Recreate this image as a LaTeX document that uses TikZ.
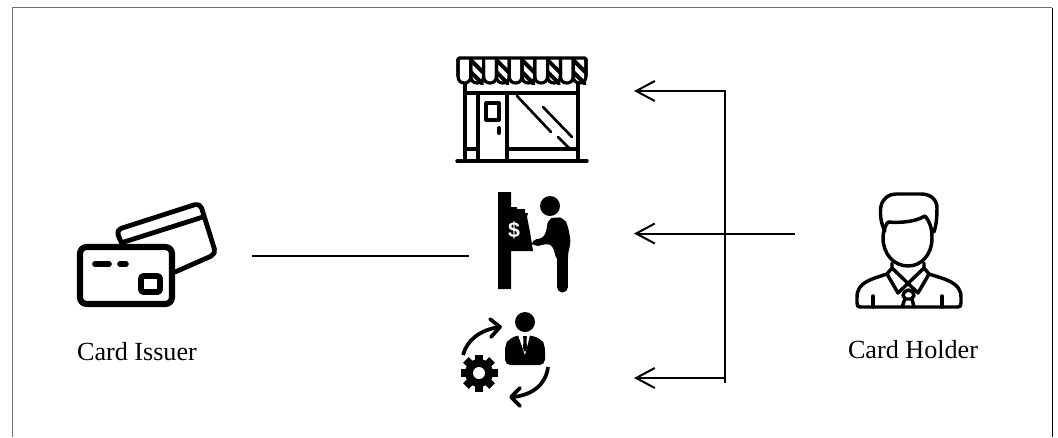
\documentclass[tikz,border=0pt]{standalone}
\usepackage{fontspec}
\setmainfont{Liberation Serif}
\setsansfont{Liberation Sans}
\usetikzlibrary{arrows.meta}
\tikzset{
  px/.style={x=0.75pt,y=-0.75pt},
  ico/.style={line width=3pt,line cap=round,line join=round,black},
  thin ico/.style={line width=2.4pt,line cap=round,line join=round,black},
  conn/.style={line width=1.5pt,black},
  arr/.style={conn,-{Straight Barb[length=14pt,width=15pt,line width=1.5pt]}},
  lab/.style={font=\fontsize{19.6pt}{22pt}\selectfont,inner sep=0pt,black,anchor=base}
}
\begin{document}
\begin{tikzpicture}[px]
\useasboundingbox (0,0) rectangle (1058,437);
\fill[white] (0,0) rectangle (1058,437);
% frame
\draw[black!55,line width=1pt] (12.5,437) -- (12.5,7.5) -- (1052,7.5);
\draw[black,line width=0.75pt] (1052,7.5) -- (1052,437);
% labels
\node[lab] (issuer) at (137,360) {Card Issuer};
\node[lab] (holder) at (913,358) {Card Holder};
% connectors
\coordinate (lineL) at (252,255.5);
\coordinate (lineR) at (469,255.5);
\coordinate (top) at (634,91);
\coordinate (mid) at (634,233.5);
\coordinate (bot) at (634,378);
\coordinate (source) at (795,233.5);
\coordinate (jt) at (725,91);
\coordinate (jb) at (725,383);
\coordinate (jb2) at (725,378);
\draw[conn] (lineL) -- (lineR);
\draw[arr] (jt) -- (top);
\draw[arr] (source) -- (mid);
\draw[arr] (jb2) -- (bot);
\draw[conn] (725,90.4) -- (jb);
% store
\begin{scope}[thin ico]
  % hatching in alternate scallops
  \foreach \x in {470.8,496.4,522,547.6,573.2}{
    \begin{scope}
      \clip (\x,58) rectangle (\x+12.8,84);
      \draw[line width=3pt,line cap=butt] (\x-1,59) -- (\x+14,74);
      \draw[line width=3pt,line cap=butt] (\x-2,70) -- (\x+13,85);
    \end{scope}
  }
  \draw[line width=2.6pt] (458,76) -- (458,60) .. controls (458,58.5) and (459,58) .. (460,58) -- (584,58) .. controls (585,58) and (586,58.5) .. (586,60) -- (586,76);
  \foreach \x in {458,470.8,483.6,496.4,509.2,522,534.8,547.6,560.4,573.2}
    \draw[line width=2.4pt] (\x,59) -- (\x,76) .. controls (\x,81) and (\x+3,83) .. (\x+6.4,83) .. controls (\x+9.8,83) and (\x+12.8,81) .. (\x+12.8,76) -- (\x+12.8,59);
  \draw[line width=2.4pt,line cap=butt] (465,84) -- (465,160);
  \draw[line width=2.4pt,line cap=butt] (578,84) -- (578,160);
  \draw[line width=2.4pt] (465,93) -- (578,93);
  \draw[line width=2.6pt] (457,161) -- (587,161);
  \draw[line width=2.4pt] (478,94) -- (478,160);
  \draw[line width=2.4pt] (507,94) -- (507,160);
  \draw[line width=2.4pt] (465,149) -- (478,149);
  \draw[line width=2.4pt] (507,149) -- (578,149);
  \draw[line width=2.4pt] (486,103) rectangle (499,120);
  \draw[line width=3pt] (499,128) -- (499,133);
  \draw[line width=2pt] (517,96) -- (551,132);
  \draw[line width=2pt] (543,107) -- (572,137);
  \draw[line width=2pt] (558,137) -- (569,148);
\end{scope}
% ATM person
\fill[black] (498,192) -- (511,192) -- (511,207) -- (517,207) -- (517,209) -- (525,209) -- (525,213) -- (528,213) -- (527,217) -- (530,232) -- (533,251) -- (511,251) -- (511,289) -- (498,289) -- cycle;
\node[font=\bfseries\sffamily\fontsize{16pt}{16pt}\selectfont,white,inner sep=0pt] (dollar) at (514,230) {\$};
\fill[black] (550,206) circle (10);
\fill[black,rounded corners=4pt] (548,219) -- (556,217) -- (564,218) -- (568,226) -- (571,243) -- (568,252) -- (568,262) -- (557,262) -- (554,250) -- (551,243) -- (533,247) -- (531,240) -- (544,238) -- (547,228) -- cycle;
\draw[black,line width=8.25pt,line cap=round] (562.5,252) -- (562.5,287);
% staff person
\fill[black] (525,322) circle (10);
\fill[black,rounded corners=4pt] (505,365) -- (545,365) -- (545,345) -- (541,339) -- (530,335) -- (518,335) -- (509,339) -- (505,345) -- cycle;
\fill[white] (518,335) -- (530,335) -- (525,355) -- cycle;
\fill[black] (523,336) -- (527,336) -- (526.5,340) -- (527,348) -- (525,352) -- (523,348) -- (523.5,340) -- cycle;
% arrows around staff
\draw[ico,line width=2.8pt,line cap=butt] (463,355) .. controls (467,340) and (480,330) .. (499,327);
\draw[ico,line width=2.8pt] (490,319) -- (500,327) -- (491,337);
\draw[ico,line width=2.8pt,line cap=butt] (548,367) .. controls (546,384) and (533,395) .. (513,397);
\draw[ico,line width=2.8pt] (520,388) -- (511,397) -- (520,406);
% gear
\fill[black] (479,373) circle (14);
\foreach \a in {0,45,...,315}
  \fill[black,rotate around={\a:(479,373)}] (475,354.5) rectangle (483,364);
\fill[white] (479,373) circle (6);
% card icon
\begin{scope}[ico]
  \draw[line width=3.6pt,rounded corners=4pt] (122,244) -- (116,230) -- (200,203) -- (216,254) -- (175,272);
  \draw[line width=3.6pt] (124,242) -- (203,217);
  \draw[rounded corners=5pt,line width=4.6pt] (80,247) rectangle (172,304);
  \draw[line width=4.2pt] (95,264) -- (109,264);
  \draw[line width=4.2pt] (120,264) -- (126,264);
  \draw[rounded corners=2pt,line width=4.4pt] (141,276) rectangle (160,292);
\end{scope}
% holder icon
\begin{scope}[thin ico,line width=2.6pt]
  \draw (885,231) .. controls (880,222) and (880,212) .. (881,206) .. controls (883,198) and (889,194) .. (896,194) -- (921,194) .. controls (931,194) and (937,200) .. (937,208) .. controls (937,218) and (936,226) .. (934,232);
  \draw (888,222) .. controls (900,223) and (915,222) .. (925,216) .. controls (930,222) and (932,228) .. (932,238) .. controls (932,255) and (921,266) .. (908,266) .. controls (894,266) and (883,254) .. (883,238) .. controls (883,231) and (885,226) .. (888,222);
  \draw (892,263) -- (892,268) -- (887,274) .. controls (872,279) and (857,282) .. (857,297) -- (857,303) .. controls (857,306) and (858,307) .. (860,307) -- (958,307) .. controls (960,307) and (961,306) .. (961,303) -- (961,297) .. controls (961,282) and (944,279) .. (929,274) -- (924,268) -- (924,263);
  \draw (887,274) -- (898,293) -- (924,268);
  \draw (892,268) -- (918,293) -- (929,274);
  \draw (903,296) .. controls (904,288) and (913,288) .. (914,296) -- (911,299) -- (906,299) -- cycle;
  \draw (905,299) -- (902,307);
  \draw (912,299) -- (914,307);
  \draw (873,296) -- (873,307);
  \draw (942,296) -- (942,307);
\end{scope}
\end{tikzpicture}
\end{document}
